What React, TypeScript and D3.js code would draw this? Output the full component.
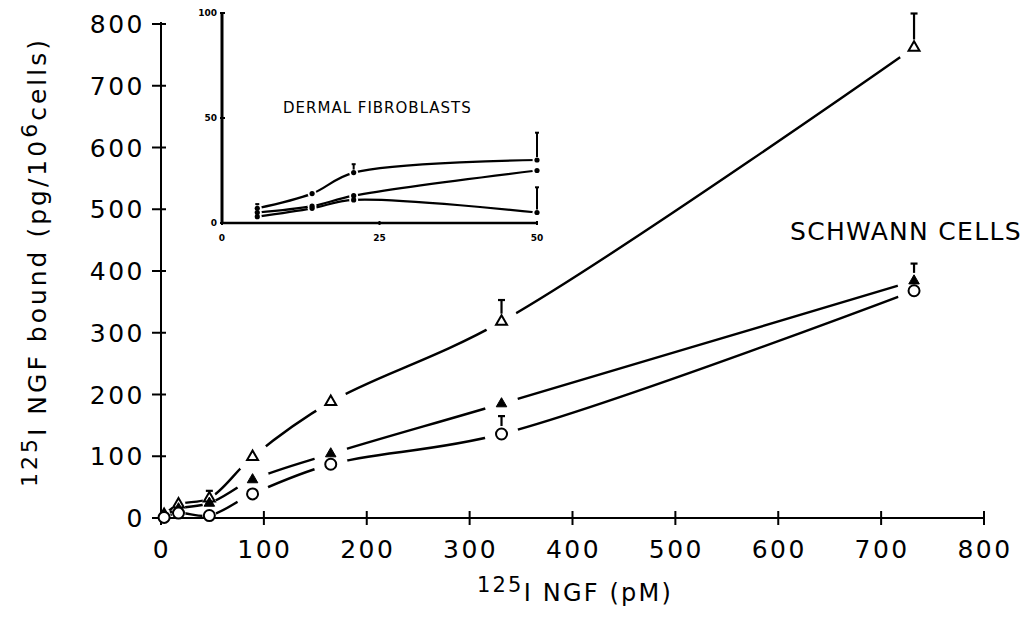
import React from 'react';
import * as d3 from 'd3';

// main panel: 125I NGF concentration (pM) vs bound (pg/10^6 cells)
const conc = [3, 17, 47, 89, 165, 331, 732];
const openTri = [5, 22, 32, 99, 188, 318, 762];
const filledTri = [3, 15, 24, 62, 104, 185, 384];
const openCirc = [1, 8, 4, 39, 87, 136, 368];
const openTriErr = [null, null, 44, null, null, 353, 817];
const filledTriErr = [null, null, null, null, null, null, 412];
const openCircErr = [null, null, null, null, null, 165, null];
const mainTicks = [0, 100, 200, 300, 400, 500, 600, 700, 800];

// inset: dermal fibroblasts
const insetConc = [5.6, 14.3, 20.9, 50];
const insetTop = [7, 14, 24, 30];
const insetMid = [5, 8, 13, 25];
const insetLow = [3, 7, 11, 5];
const insetTopErr = [9, null, 28, 43];
const insetLowErr = [null, null, null, 17];
const insetXTicks = [0, 25, 50];
const insetYTicks = [0, 50, 100];

const FONT = '"DejaVu Sans", sans-serif';
const W = 1036;
const H = 617;

export default function App() {
  const x = d3.scaleLinear().domain([0, 800]).range([161, 984]);
  const y = d3.scaleLinear().domain([0, 800]).range([518, 24]);
  const ix = d3.scaleLinear().domain([0, 50]).range([222, 537]);
  const iy = d3.scaleLinear().domain([0, 100]).range([223, 13]);

  const curve = d3.curveCatmullRom.alpha(0.5);
  const tri = d3.symbol().type(d3.symbolTriangle);

  // draw each curve, then cut it apart around its own points via a mask
  const lineWithGaps = (pts: [number, number][], gap: (i: number) => number, id: string, width: number) => {
    const d = d3.line().curve(curve)(pts) || '';
    return (
      <g key={id}>
        <mask id={id} maskUnits="userSpaceOnUse" x={0} y={0} width={W} height={H}>
          <rect x={0} y={0} width={W} height={H} fill="white" />
          {pts.map((p, i) => <circle key={i} cx={p[0]} cy={p[1]} r={gap(i)} fill="black" />)}
        </mask>
        <path d={d} fill="none" stroke="#000" strokeWidth={width} mask={`url(#${id})`} />
      </g>
    );
  };

  const series = [
    { id: 'ot', vals: openTri, err: openTriErr, kind: 'openTri' },
    { id: 'ft', vals: filledTri, err: filledTriErr, kind: 'filledTri' },
    { id: 'oc', vals: openCirc, err: openCircErr, kind: 'openCirc' },
  ];
  const insetSeries = [
    { id: 'it', vals: insetTop, err: insetTopErr },
    { id: 'im', vals: insetMid, err: [null, null, null, null] },
    { id: 'il', vals: insetLow, err: insetLowErr },
  ];

  return (
    <svg width={W} height={H} fontFamily={FONT}
      style={{ position: 'absolute', left: 0, top: 0, display: 'block', background: '#fff' }}>

      {/* main axes */}
      <g stroke="#000" strokeWidth={2}>
        <line x1={x(0)} x2={x(0)} y1={y(0)} y2={y(800) - 2} />
        <line x1={x(0)} x2={x(800)} y1={y(0)} y2={y(0)} />
        {mainTicks.map(t => (
          <line key={'yt' + t} x1={x(0) - 9} x2={x(0) + 5} y1={y(t)} y2={y(t)} />
        ))}
        {mainTicks.map(t => (
          <line key={'xt' + t} x1={x(t)} x2={x(t)} y1={y(0) - 7} y2={y(0) + 7} />
        ))}
      </g>
      <g fontSize={25} fill="#000" letterSpacing={2.5}>
        {mainTicks.map(t => (
          <text key={'yl' + t} x={145} y={y(t)} dy="0.36em" textAnchor="end">{t}</text>
        ))}
        {mainTicks.map(t => (
          <text key={'xl' + t} x={x(t) + 1} y={558} textAnchor="middle">{t}</text>
        ))}
      </g>
      <text x={575} y={601} fontSize={24} textAnchor="middle" letterSpacing={2.2}>
        <tspan fontSize={21} dy={-9}>125</tspan>
        <tspan dy={9}>I NGF (pM)</tspan>
      </text>
      <text transform="translate(46,262) rotate(-90)" fontSize={25} textAnchor="middle" letterSpacing={3}>
        <tspan fontSize={22} dy={-9}>125</tspan>
        <tspan dy={9}>I NGF bound (pg/10</tspan>
        <tspan fontSize={22} dy={-9}>6</tspan>
        <tspan dy={9}>cells)</tspan>
      </text>

      {/* main series */}
      {series.map(s => lineWithGaps(
        s.vals.map((v, i) => [x(conc[i]), y(v)] as [number, number]),
        i => (i < 3 ? 7 : 17), 'gm-' + s.id, 2.4))}
      {series.map(s => (
        <g key={'e' + s.id} stroke="#000" strokeWidth={2.2}>
          {s.err.map((e, i) => e == null ? null : (
            <g key={i}>
              <line x1={x(conc[i])} x2={x(conc[i])} y1={y(s.vals[i]) - 8} y2={y(e)} />
              <line x1={x(conc[i]) - 3.5} x2={x(conc[i]) + 3.5} y1={y(e)} y2={y(e)} />
            </g>
          ))}
        </g>
      ))}
      {series.map(s => (
        <g key={'p' + s.id}>
          {s.vals.map((v, i) => {
            const cx = x(conc[i]);
            const cy = y(v);
            if (s.kind === 'openCirc') {
              return <circle key={i} cx={cx} cy={cy} r={5.5} fill="#fff" stroke="#000" strokeWidth={2} />;
            }
            const filled = s.kind === 'filledTri';
            return (
              <path key={i} transform={`translate(${cx},${cy})`} d={tri.size(filled ? 48 : 52)() || ''}
                fill={filled ? '#000' : '#fff'} stroke="#000" strokeWidth={filled ? 1 : 2} />
            );
          })}
        </g>
      ))}
      <text x={790} y={240} fontSize={25} letterSpacing={1.3}>SCHWANN CELLS</text>

      {/* inset */}
      <g stroke="#000">
        <line x1={ix(0)} x2={ix(0)} y1={iy(0)} y2={iy(100) - 1} strokeWidth={3} />
        <line x1={ix(0)} x2={ix(50)} y1={iy(0)} y2={iy(0)} strokeWidth={2.5} />
        {insetYTicks.map(t => (
          <line key={t} x1={ix(0) - 2} x2={ix(0) + 3} y1={iy(t)} y2={iy(t)} strokeWidth={2} />
        ))}
        {insetXTicks.map(t => (
          <line key={t} x1={ix(t)} x2={ix(t)} y1={iy(0) - 2} y2={iy(0) + 2} strokeWidth={2} />
        ))}
      </g>
      <g fontSize={9} fontWeight="bold" fill="#000">
        {insetYTicks.map(t => (
          <text key={t} x={ix(0) - 5} y={iy(t)} dy="0.35em" textAnchor="end">{t}</text>
        ))}
        {insetXTicks.map(t => (
          <text key={t} x={ix(t)} y={241} textAnchor="middle">{t}</text>
        ))}
      </g>
      <text x={283} y={113} fontSize={15} letterSpacing={1}>DERMAL FIBROBLASTS</text>
      {insetSeries.map(s => lineWithGaps(
        s.vals.map((v, i) => [ix(insetConc[i]), iy(v)] as [number, number]),
        () => 4.5, 'gi-' + s.id, 2.2))}
      {insetSeries.map(s => (
        <g key={'ie' + s.id} stroke="#000" strokeWidth={2}>
          {s.err.map((e, i) => e == null ? null : (
            <g key={i}>
              <line x1={ix(insetConc[i])} x2={ix(insetConc[i])} y1={iy(s.vals[i]) - 3} y2={iy(e)} />
              <line x1={ix(insetConc[i]) - 2} x2={ix(insetConc[i]) + 2} y1={iy(e)} y2={iy(e)} />
            </g>
          ))}
        </g>
      ))}
      {insetSeries.map(s => (
        <g key={'ip' + s.id}>
          {s.vals.map((v, i) => (
            <circle key={i} cx={ix(insetConc[i])} cy={iy(v)} r={2.6} fill="#000" />
          ))}
        </g>
      ))}
    </svg>
  );
}
